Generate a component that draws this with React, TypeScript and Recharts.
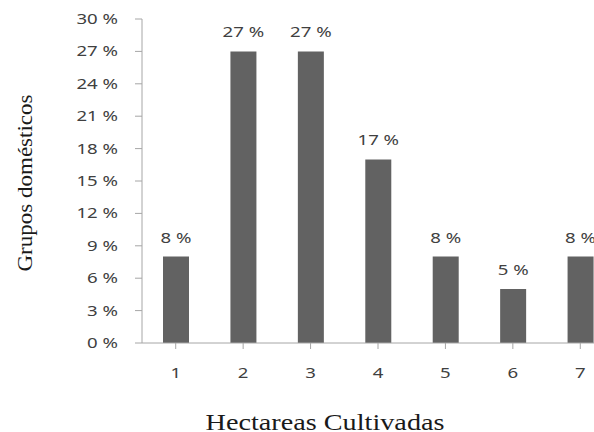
import { BarChart, Bar, XAxis, YAxis, LabelList, Label } from 'recharts';

// datos
const hectareas = ['1', '2', '3', '4', '5', '6', '7'];
const grupos = [8, 27, 27, 17, 8, 5, 8];
const yTicks = [0, 3, 6, 9, 12, 15, 18, 21, 24, 27, 30];

const data = hectareas.map((h, i) => ({ hectareas: h, grupos: grupos[i] }));

const TXT = '#404040';
const AXIS = '#a6a6a6';
const SANS = '"Noto Sans", sans-serif';
const SERIF = '"Liberation Serif", "Times New Roman", serif';

const YTick = (props: any) => {
  const { x, y, payload } = props;
  return (
    <g transform={`translate(${x},${y})`}>
      <text transform="scale(1.33,1)" textAnchor="end" dy="0.36em" fontSize={14} fontFamily={SANS} fill={TXT}>
        {`${payload.value} %`}
      </text>
    </g>
  );
};

const XTick = (props: any) => {
  const { x, y, payload } = props;
  return (
    <g transform={`translate(${x},${y})`}>
      <text transform="scale(1.33,1)" textAnchor="middle" dy={27} fontSize={14} fontFamily={SANS} fill={TXT}>
        {payload.value}
      </text>
    </g>
  );
};

const BarValue = (props: any) => {
  const { x, y, width, value } = props;
  return (
    <g transform={`translate(${x + width / 2},${y - 14})`}>
      <text transform="scale(1.33,1)" textAnchor="middle" fontSize={14} fontFamily={SANS} fill={TXT}>
        {`${value} %`}
      </text>
    </g>
  );
};

export default function App() {
  return (
    <div style={{ position: 'absolute', left: 0, top: 0, width: 594, height: 432, overflow: 'hidden', background: '#fff' }}>
      <BarChart width={614} height={432} data={data} margin={{ top: 19, right: 0, left: 82, bottom: 59 }}>
        <XAxis
          dataKey="hectareas"
          height={30}
          tickSize={6}
          tickMargin={2}
          stroke={AXIS}
          tick={<XTick />}
        >
          <Label
            content={(p: any) => {
              const vb = p.viewBox;
              return (
                <text
                  x={325}
                  y={vb.y + 87}
                  textAnchor="middle"
                  fontSize={23}
                  fontFamily={SERIF}
                  fill="#1a1a1a"
                  textLength={239}
                  lengthAdjust="spacingAndGlyphs"
                >
                  Hectareas Cultivadas
                </text>
              );
            }}
          />
        </XAxis>
        <YAxis
          width={60}
          domain={[0, 30]}
          ticks={yTicks}
          interval={0}
          tickSize={7}
          tickMargin={17}
          stroke={AXIS}
          tick={<YTick />}
        >
          <Label
            content={(p: any) => {
              const vb = p.viewBox;
              const cy = vb.y + vb.height / 2 + 2;
              return (
                <text
                  x={32}
                  y={cy}
                  transform={`rotate(-90, 32, ${cy})`}
                  textAnchor="middle"
                  fontSize={21}
                  fontFamily={SERIF}
                  fill="#1a1a1a"
                  textLength={177}
                  lengthAdjust="spacingAndGlyphs"
                >
                  Grupos domésticos
                </text>
              );
            }}
          />
        </YAxis>
        <Bar dataKey="grupos" fill="#626262" barSize={26} isAnimationActive={false}>
          <LabelList dataKey="grupos" content={<BarValue />} />
        </Bar>
      </BarChart>
    </div>
  );
}
